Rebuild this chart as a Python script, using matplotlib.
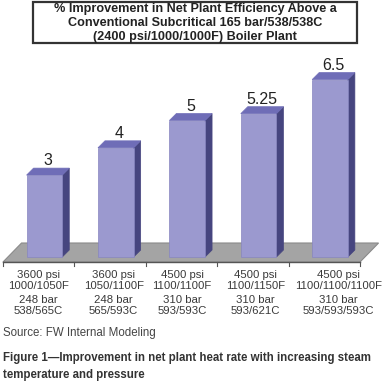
import matplotlib.pyplot as plt
from matplotlib.patches import Polygon, Rectangle

plt.rcParams['font.family'] = ['Liberation Sans', 'DejaVu Sans']

# data
values = [3, 4, 5, 5.25, 6.5]
value_labels = ['3', '4', '5', '5.25', '6.5']
psi_labels = ['3600 psi', '3600 psi', '4500 psi', '4500 psi', '4500 psi']
temp_f = ['1000/1050F', '1050/1100F', '1100/1100F', '1100/1150F', '1100/1100/1100F']
bar_labels = ['248 bar', '248 bar', '310 bar', '310 bar', '310 bar']
temp_c = ['538/565C', '565/593C', '593/593C', '593/621C', '593/593/593C']
title_lines = ['% Improvement in Net Plant Efficiency Above a',
               'Conventional Subcritical 165 bar/538/538C',
               '(2400 psi/1000/1000F) Boiler Plant']
source = 'Source: FW Internal Modeling'
caption = ['Figure 1\u2014Improvement in net plant heat rate with increasing steam',
           'temperature and pressure']

W, H = 387, 386
fig = plt.figure(figsize=(W / 100, H / 100), dpi=100)
ax = fig.add_axes([0, 0, 1, 1])
ax.axis('off')

# pixel scale of the plot: 71.4 px per category, 27.3 px per % point
ax.set_xlim(-0.542, 4.878)
ax.set_ylim(-4.725, 9.414)


def fx(px):
    return px / W


def fy(py):
    return 1 - py / H


# 3d look
front_c, top_c, side_c = '#9b99cf', '#6f6db7', '#46457f'
bw, shift = 0.5, 0.08
dx, dy = 0.098, 0.256

# floor
n = len(values)
fy0, fy1, fsh = -0.183, 0.513, 0.26
ax.add_patch(Polygon([(-0.5, fy0), (n - 0.5, fy0), (n - 0.5 + fsh, fy1), (-0.5 + fsh, fy1)],
                     closed=True, facecolor='#a4a4a4', edgecolor='#8a8a8a', lw=0.8, zorder=1))
ax.plot([-0.5, n - 0.5], [fy0, fy0], color='#555555', lw=1, zorder=2)
for i in range(n + 1):
    ax.plot([i - 0.5, i - 0.5], [fy0, fy0 - 0.15], color='#555555', lw=0.8, zorder=2)

# category labels sit a little off centre in the original
label_dx = [0.0, 0.05, 0.01, 0.04, 0.2]
rows = [(psi_labels, -0.66), (temp_f, -1.06), (bar_labels, -1.58), (temp_c, -1.98)]

for i, v in enumerate(values):
    x0 = i - bw / 2 + shift
    x1 = x0 + bw
    ax.add_patch(Polygon([(x1, 0), (x1 + dx, dy), (x1 + dx, v + dy), (x1, v)],
                         closed=True, facecolor=side_c, edgecolor=side_c, lw=0.5, zorder=3))
    ax.add_patch(Polygon([(x0, v), (x1, v), (x1 + dx, v + dy), (x0 + dx, v + dy)],
                         closed=True, facecolor=top_c, edgecolor=top_c, lw=0.5, zorder=3))
    ax.add_patch(Rectangle((x0, 0), bw, v, facecolor=front_c, edgecolor='#8886c0',
                           lw=0.5, zorder=4))
    ax.text(i + shift + dx / 2, v + dy + 0.1, value_labels[i], ha='center', va='baseline',
            fontsize=11.5, color='#222222', zorder=5)
    for labels, ly in rows:
        ax.text(i + label_dx[i], ly, labels[i], ha='center', va='center', fontsize=8.2,
                color='#3a3a3a')

# title box
fig.add_artist(Rectangle((fx(33), fy(43)), fx(357) - fx(33), fy(2) - fy(43),
                         transform=fig.transFigure, facecolor='white',
                         edgecolor='#333333', lw=1.6))
for k, line in enumerate(title_lines):
    fig.text(fx(195), fy(9 + 14 * k), line, ha='center', va='center',
             fontsize=9.1, fontweight='bold', color='#222222')

fig.text(fx(3), fy(333), source, ha='left', va='center', fontsize=8.3, color='#444444')
for k, line in enumerate(caption):
    fig.text(fx(3), fy(358 + 17 * k), line, ha='left', va='center', fontsize=8.3,
             fontweight='bold', color='#333333')

fig.savefig('out.png', dpi=100)
